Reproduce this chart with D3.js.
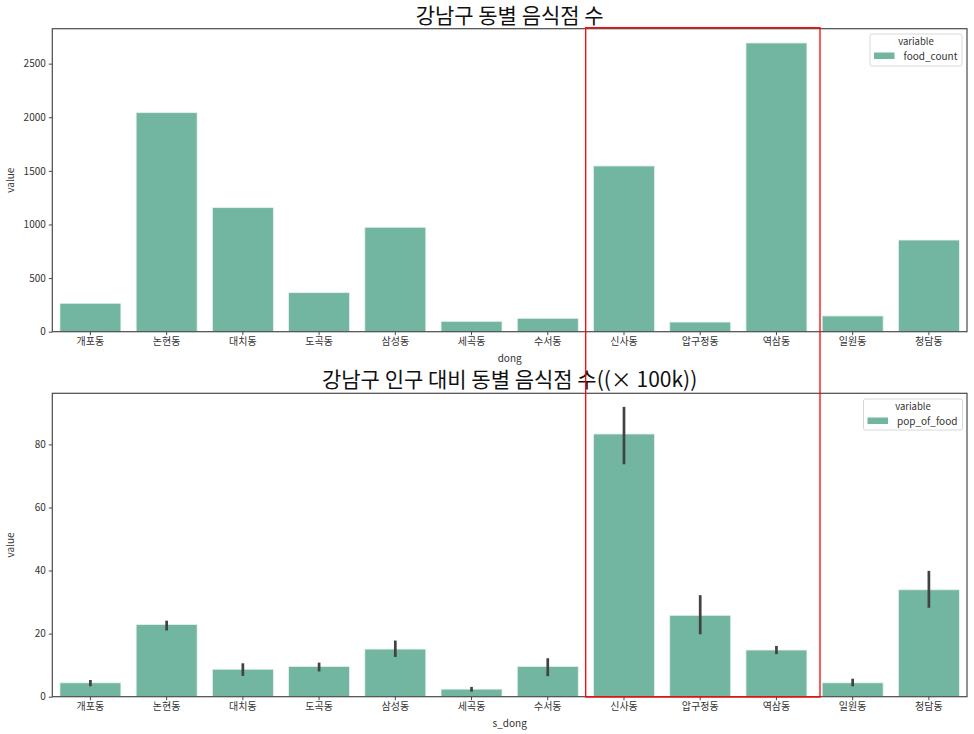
<!DOCTYPE html>
<html><head><meta charset="utf-8">
<script src="https://cdn.jsdelivr.net/npm/d3@7"></script>
<style>
body{margin:0;background:#fff;}
text{font-family:"Noto Sans CJK KR","Noto Sans",sans-serif;}
</style></head>
<body><svg id="chart" width="974" height="734"></svg>
<script>
const dongs = ["개포동","논현동","대치동","도곡동","삼성동","세곡동","수서동","신사동","압구정동","역삼동","일원동","청담동"];
const foodCount = [265, 2043, 1157, 364, 974, 97, 125, 1546, 90, 2693, 147, 855];
const popOfFood = [4.4, 22.9, 8.7, 9.6, 15.1, 2.4, 9.6, 83.3, 25.8, 14.8, 4.4, 33.9];
const popErrLow = [3.3, 21.0, 6.6, 8.0, 12.6, 1.6, 6.5, 73.7, 19.8, 13.5, 3.3, 28.2];
const popErrHigh = [5.3, 24.1, 10.6, 10.8, 17.8, 3.1, 12.2, 91.9, 32.2, 16.1, 5.7, 39.9];
const topTicks = [0, 500, 1000, 1500, 2000, 2500];
const bottomTicks = [0, 20, 40, 60, 80];

const svg = d3.select("#chart");
const barColor = "#72b5a1";
const axisColor = "#4a4a4a";
const left = 52.3, right = 967;

function panel(opt){
  const g = svg.append("g");
  const x = d3.scaleBand().domain(dongs).range([left, right]).paddingInner(0.2).paddingOuter(0.1);
  const y = d3.scaleLinear().domain([0, opt.ymax]).range([opt.bottom, opt.top]);
  g.selectAll("rect.bar").data(dongs).join("rect")
    .attr("x", d => x(d)).attr("width", x.bandwidth())
    .attr("y", (d,i) => y(opt.values[i])).attr("height", (d,i) => y(0) - y(opt.values[i]))
    .attr("fill", barColor).attr("stroke", "#e6f2ee").attr("stroke-width", 0.8);
  if (opt.lo) {
    g.selectAll("line.err").data(dongs).join("line")
      .attr("x1", d => x(d) + x.bandwidth()/2).attr("x2", d => x(d) + x.bandwidth()/2)
      .attr("y1", (d,i) => y(opt.lo[i])).attr("y2", (d,i) => y(opt.hi[i]))
      .attr("stroke", "#424242").attr("stroke-width", 2.7);
  }
  const xa = g.append("g").attr("transform", `translate(0,${opt.bottom})`)
    .call(d3.axisBottom(x).tickSize(3.5).tickPadding(3));
  xa.select(".domain").remove();
  xa.selectAll("line").attr("stroke", axisColor);
  xa.selectAll("text").attr("fill", "#333").style("font-size", "10px");
  const ya = g.append("g").attr("transform", `translate(${left},0)`)
    .call(d3.axisLeft(y).tickValues(opt.ticks).tickSize(3.5).tickPadding(3).tickFormat(d3.format("d")));
  ya.select(".domain").remove();
  ya.selectAll("line").attr("stroke", axisColor);
  ya.selectAll("text").attr("fill", "#333").style("font-size", "10px");
  g.append("rect").attr("x", left).attr("y", opt.top).attr("width", right-left).attr("height", opt.bottom-opt.top)
    .attr("fill", "none").attr("stroke", axisColor).attr("stroke-width", 1.2);
  g.append("text").attr("x", (left+right)/2).attr("y", opt.top - 6).attr("text-anchor", "middle")
    .style("font-size", "21px").attr("fill", "#111").text(opt.title);
  g.append("text").attr("x", (left+right)/2).attr("y", opt.bottom + 30).attr("text-anchor", "middle")
    .style("font-size", "10px").attr("fill", "#333").text(opt.xlabel);
  g.append("text").attr("transform", `translate(14,${(opt.top+opt.bottom)/2}) rotate(-90)`).attr("text-anchor", "middle")
    .style("font-size", "10px").attr("fill", "#333").text("value");
  const L = opt.legend;
  g.append("rect").attr("x", L.x).attr("y", L.y).attr("width", L.w).attr("height", L.h).attr("rx", 2)
    .attr("fill", "#fff").attr("fill-opacity", 0.8).attr("stroke", "#d8d8d8");
  g.append("text").attr("x", L.x + L.w/2).attr("y", L.y + 11).attr("text-anchor", "middle")
    .style("font-size", "9.5px").attr("fill", "#333").text("variable");
  g.append("rect").attr("x", L.x + 4).attr("y", L.y + 18.5).attr("width", 20.5).attr("height", 6.5).attr("fill", barColor);
  g.append("text").attr("x", L.x + 33.5).attr("y", L.y + 25.5)
    .style("font-size", "10px").attr("fill", "#333").text(opt.series);
}

panel({top: 28.7, bottom: 331.7, ymax: 2826, values: foodCount, ticks: topTicks,
  title: "강남구 동별 음식점 수", xlabel: "dong", series: "food_count",
  legend: {x: 870, y: 34, w: 92, h: 32}});
panel({top: 393.3, bottom: 696.7, ymax: 96.2, values: popOfFood, lo: popErrLow, hi: popErrHigh, ticks: bottomTicks,
  title: "강남구 인구 대비 동별 음식점 수((× 100k))", xlabel: "s_dong", series: "pop_of_food",
  legend: {x: 863.5, y: 399, w: 99, h: 31}});

svg.append("rect").attr("x", 585.7).attr("y", 27.7).attr("width", 820-585.7).attr("height", 697-27.7)
  .attr("fill", "none").attr("stroke", "#ff0000").attr("stroke-width", 1.3);
</script></body></html>
